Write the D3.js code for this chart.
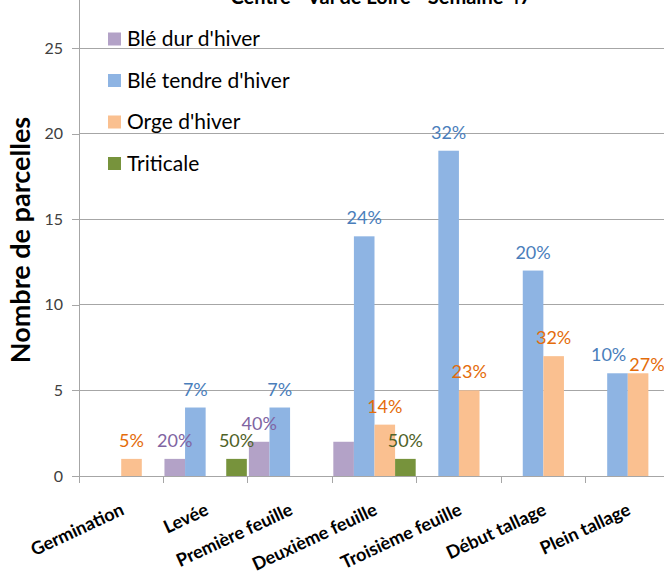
<!DOCTYPE html>
<html>
<head>
<meta charset="utf-8">
<script src="https://cdn.jsdelivr.net/npm/d3@7"></script>
<style>
  html, body { margin: 0; padding: 0; background: #fff; }
  svg { display: block; }
  text { font-family: Lato, "Open Sans", "Noto Sans", sans-serif; }
</style>
</head>
<body>
<svg id="chart" width="664" height="575"></svg>
<script>
// ---- data ----
const title = "Centre - Val de Loire - Semaine 47";
const yTitle = "Nombre de parcelles";
const categories = ["Germination", "Levée", "Première feuille", "Deuxième feuille", "Troisième feuille", "Début tallage", "Plein tallage"];
const seriesNames = ["Blé dur d'hiver", "Blé tendre d'hiver", "Orge d'hiver", "Triticale"];
const bleDur     = [0, 1, 2, 2, 0, 0, 0];
const bleTendre  = [0, 4, 4, 14, 19, 12, 6];
const orge       = [1, 0, 0, 3, 5, 7, 6];
const triticale  = [0, 1, 0, 1, 0, 0, 0];
const bleDurPct    = [null, "20%", "40%", null, null, null, null];
const bleTendrePct = [null, "7%", "7%", "24%", "32%", "20%", "10%"];
const orgePct      = [ "5%", null, null, "14%", "23%", "32%", "27%"];
const triticalePct = [null, "50%", null, "50%", null, null, null];
const yTicks = [0, 5, 10, 15, 20, 25];

const seriesValues = [bleDur, bleTendre, orge, triticale];
const seriesPct = [bleDurPct, bleTendrePct, orgePct, triticalePct];
const barColors = ["#B3A2C7", "#8EB4E3", "#FAC090", "#77933C"];
const labelColors = ["#8064A2", "#4A7EBB", "#E46C0A", "#4F6228"];

// ---- layout ----
const svg = d3.select("#chart");
const x0 = 79, x1 = 670, yBase = 476, yTop = 48;

const x = d3.scaleBand().domain(categories).range([x0, x1]).paddingInner(0).paddingOuter(0);
const xs = d3.scaleBand().domain(d3.range(seriesNames.length)).range([0, x.bandwidth()]).paddingInner(0).paddingOuter(0.05);
const y = d3.scaleLinear().domain([0, 25]).range([yBase, yTop]);

// title (mostly cut off at top)
svg.append("text").attr("x", 381).attr("y", 4).attr("text-anchor", "middle")
  .attr("font-size", 20).attr("font-weight", "bold").attr("fill", "#000").text(title);

// gridlines
svg.append("g").selectAll("line").data(yTicks.filter(d => d > 0)).join("line")
  .attr("x1", x0).attr("x2", 664).attr("y1", d => y(d)).attr("y2", d => y(d))
  .attr("stroke", "#a6a6a6").attr("stroke-width", 1).attr("shape-rendering", "crispEdges");

// y axis
const yAxis = d3.axisLeft(y).tickValues(yTicks).tickSize(7).tickPadding(9);
const gy = svg.append("g").attr("transform", `translate(${x0},0)`).call(yAxis);
gy.select(".domain").remove();
gy.selectAll(".tick line").attr("stroke", "#a6a6a6").attr("shape-rendering", "crispEdges");
gy.selectAll(".tick text").attr("font-size", 16).attr("fill", "#404040")
  .style("font-family", "Lato, sans-serif");
svg.append("line").attr("x1", x0).attr("x2", x0).attr("y1", 0).attr("y2", yBase + 7)
  .attr("stroke", "#a6a6a6").attr("shape-rendering", "crispEdges");

// bars
const groups = svg.append("g").selectAll("g").data(seriesValues).join("g")
  .attr("fill", (d, i) => barColors[i]);
groups.each(function(vals, si) {
  d3.select(this).selectAll("rect").data(vals.map((v, ci) => ({v, ci}))).join("rect")
    .filter(d => d.v > 0)
    .attr("x", d => x(categories[d.ci]) + xs(si))
    .attr("width", xs.bandwidth())
    .attr("y", d => y(d.v))
    .attr("height", d => y(0) - y(d.v));
});

// x axis
const xAxis = d3.axisBottom(x).tickSize(0).tickFormat("");
const gx = svg.append("g").attr("transform", `translate(0,${yBase})`).call(xAxis);
gx.select(".domain").remove();
svg.append("line").attr("x1", x0).attr("x2", 664).attr("y1", yBase).attr("y2", yBase)
  .attr("stroke", "#a6a6a6").attr("shape-rendering", "crispEdges");
svg.append("g").selectAll("line").data(categories).join("line")
  .attr("x1", d => x(d)).attr("x2", d => x(d)).attr("y1", yBase).attr("y2", yBase + 7)
  .attr("stroke", "#a6a6a6").attr("shape-rendering", "crispEdges");

// x labels
svg.append("g").selectAll("text").data(categories).join("text")
  .attr("transform", d => `translate(${x(d) + x.bandwidth() / 2 + 4},${yBase + 38}) rotate(-25)`)
  .attr("text-anchor", "end").attr("font-size", 18).attr("font-weight", "bold").attr("fill", "#000")
  .text(d => d);

// value labels
const labels = [];
seriesValues.forEach((vals, si) => {
  svg.append("g").selectAll("text")
    .data(vals.map((v, ci) => ({v, ci, si, t: seriesPct[si][ci]})).filter(d => d.t))
    .join("text")
    .attr("x", d => x(categories[d.ci]) + xs(si) + xs.bandwidth() / 2)
    .attr("y", d => y(d.v) - 12)
    .attr("text-anchor", "middle").attr("font-size", 18).attr("fill", labelColors[si])
    .text(d => d.t)
    .each(function(d) { labels.push({node: this, d}); });
});
// simple collision avoidance between neighbouring labels of one category
d3.groups(labels, l => l.d.ci).forEach(([ci, ls]) => {
  ls.sort((a, b) => a.d.si - b.d.si);
  for (let i = 1; i < ls.length; i++) {
    const a = ls[i - 1], b = ls[i];
    const ba = a.node.getBBox(), bb = b.node.getBBox();
    const overlapX = ba.x + ba.width + 3 - bb.x;
    const overlapY = Math.min(ba.y + ba.height, bb.y + bb.height) - Math.max(ba.y, bb.y);
    if (overlapX > 0 && overlapY > 0) {
      a.node.setAttribute("x", +a.node.getAttribute("x") - overlapX / 2);
      b.node.setAttribute("x", +b.node.getAttribute("x") + overlapX / 2);
      b.node.setAttribute("y", +b.node.getAttribute("y") + 10);
    }
  }
});

// y title
svg.append("text").attr("transform", "translate(30,240) rotate(-90)")
  .attr("text-anchor", "middle").attr("font-size", 27).attr("font-weight", "bold").attr("fill", "#000")
  .text(yTitle);

// legend
const lg = svg.append("g").selectAll("g").data(seriesNames).join("g")
  .attr("transform", (d, i) => `translate(108,${39 + i * 41.5})`);
lg.append("rect").attr("x", 0).attr("y", -6.5).attr("width", 13).attr("height", 13)
  .attr("fill", (d, i) => barColors[i]);
lg.append("text").attr("x", 19).attr("y", 0).attr("dy", "0.35em")
  .attr("font-size", 21).attr("fill", "#000").text(d => d);
</script>
</body>
</html>
